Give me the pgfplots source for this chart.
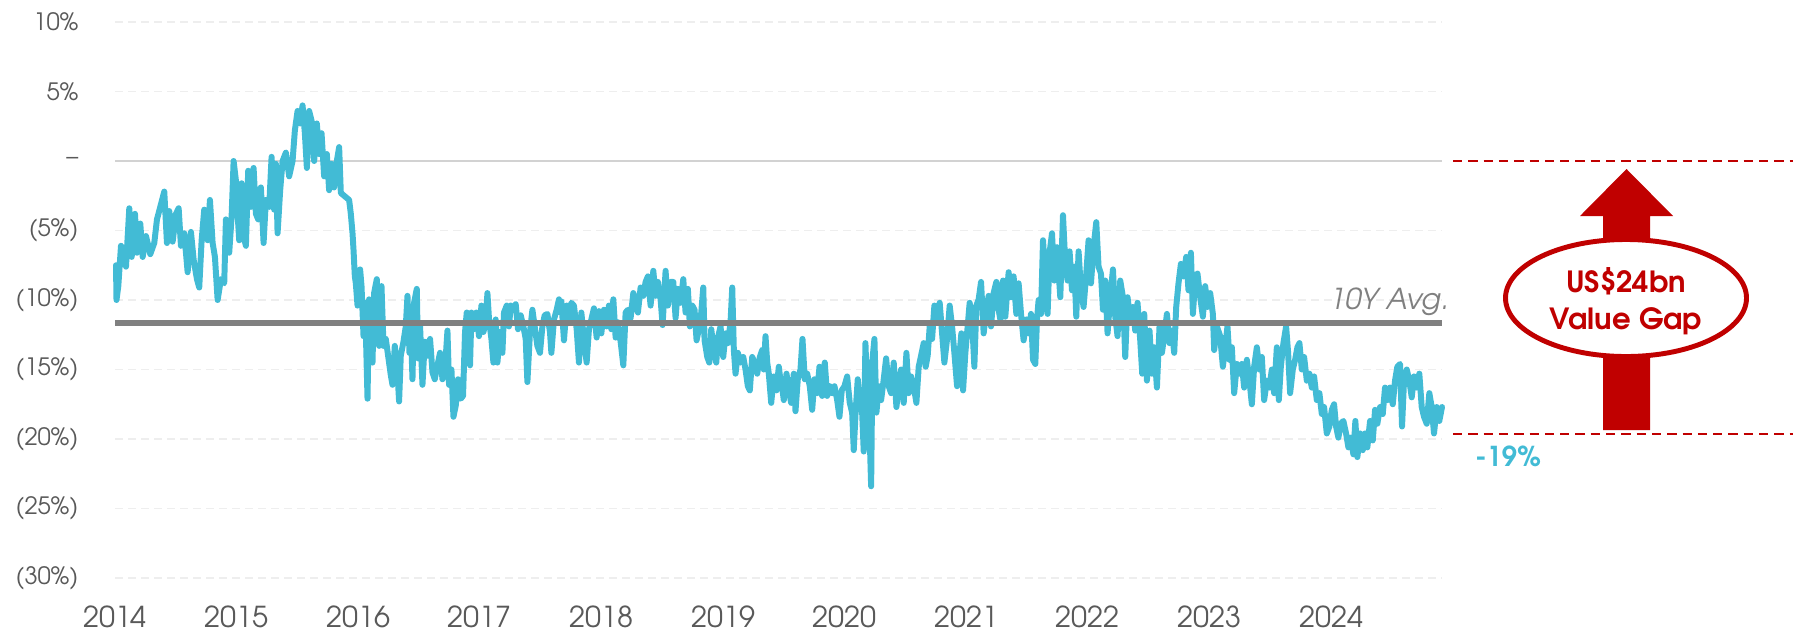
\documentclass[border=0pt]{standalone}
\usepackage{pgfplots}
\pgfplotsset{compat=1.18}
\usepackage{fontspec}
\setmainfont{TeX Gyre Adventor}
\definecolor{tealc}{RGB}{66,187,213}
\definecolor{avgc}{RGB}{128,128,128}
\definecolor{redc}{RGB}{192,0,0}
\definecolor{tickc}{RGB}{89,89,89}
\definecolor{gridc}{RGB}{238,238,238}
\definecolor{zeroc}{RGB}{210,210,210}
\begin{document}
\begin{tikzpicture}
\useasboundingbox (0,0) rectangle (180.1mm,63.1mm);
\begin{axis}[
  at={(11.5mm,5.3mm)}, anchor=south west,
  scale only axis, width=132.7mm, height=55.6mm,
  xmin=114, xmax=1442, ymin=-30, ymax=10,
  axis line style={draw=none},
  major tick length=0pt,
  xtick={114,235.7,357.4,479.1,600.8,722.5,844.2,965.9,1087.6,1209.3,1331},
  xticklabels={2014,2015,2016,2017,2018,2019,2020,2021,2022,2023,2024},
  ytick={-30,-25,-20,-15,-10,-5,0,5,10},
  yticklabels={(30\%),(25\%),(20\%),(15\%),(10\%),(5\%),\textendash,5\%,10\%},
  xticklabel style={font=\fontsize{8.2}{9}\selectfont, text=tickc, inner sep=0pt, anchor=north},
  yticklabel style={font=\fontsize{6.8}{8}\selectfont, text=tickc, inner sep=0pt, anchor=east},
  xticklabel shift=2.7mm,
  yticklabel shift=3.6mm,
  ymajorgrids,
  grid style={color=gridc, line width=0.55pt, dash pattern=on 0.8mm off 0.5mm},
  clip=false,
]
\addplot[zeroc, line width=0.55pt, forget plot] coordinates {(114,0) (1442,0)};
\addplot[tealc, line width=1.7pt, line join=round, line cap=round] coordinates {
(115,-7.5) (115.5,-10) (117.3,-9) (120,-6.1) (122.7,-6.6) (125,-7.6) (128.3,-3.4) (130.7,-6.9) (134,-3.8) (136,-6.6)
(139.3,-4.5) (141.7,-6.9) (145,-5.4) (149.3,-6.7) (153.3,-5.9) (156,-4.2) (159.3,-3.3) (163.3,-2.2) (166,-5.9) (168.3,-3.6)
(171.7,-5.8) (175,-3.8) (177.7,-3.4) (180,-6.1) (183.3,-5.2) (186.7,-8.0) (190,-5.1) (192.7,-7.1) (196,-8.5) (198.3,-9.1)
(200.7,-5.7) (203.3,-3.5) (206.7,-5.7) (209,-2.8) (211.7,-5.9) (214,-6.9) (216.7,-10) (220,-8.5) (223.3,-8.8) (225,-4.2)
(228.3,-6.6) (230.7,-4.0) (232.7,0) (235,-1.4) (236.7,-3.8) (238.3,-5.7) (240.7,-1.6) (242.7,-5.4) (245,-6.1) (247.3,-0.7)
(250,-3.3) (252.7,-0.5) (255,-3.8) (257.3,-4.2) (260,-1.9) (262.7,-5.9) (265,-2.8) (268.3,-3.3) (270.7,0.3) (273.3,-3.5)
(275,-0.2) (276.7,-5.2) (279.3,-2.1) (281.7,0) (285,0.6) (288.3,-1.1) (291.7,0) (294,2.2) (296.7,3.6) (299.3,2.7)
(301.7,4.0) (304,2.0) (306,-0.5) (308.3,3.6) (310.7,2.9) (313.3,0) (316,2.7) (318.3,0.5) (320.7,2.0) (323.3,-1.1)
(326,0.5) (328.3,-2.1) (330.7,-0.2) (333.3,-1.9) (336,0) (338.3,1.0) (340,-2.3)
(348.3,-2.8) (350,-3.8) (351.7,-5.2) (352.7,-6.4) (354,-8.3) (355,-8.8) (356.7,-10.4) (359.3,-7.8) (360.7,-9.0) (362.7,-12.6)
(364.3,-10.2) (366.7,-17.1) (368.3,-9.95) (370,-10.9) (371.7,-14.5) (373.3,-9.5) (376,-8.5) (378.3,-13.3) (380.7,-9.0) (382.7,-13.3)
(385,-12.8) (387.3,-14.0) (390,-15.4) (391.7,-16.1) (394,-13.3) (396.7,-15.2) (398.3,-17.3) (400,-14.0) (402.7,-13.0) (405,-11.9)
(406.7,-9.7) (408.7,-13.8) (410,-11.9) (411.7,-15.7) (413.3,-10.2) (416,-9.2) (417.3,-14.2) (419.3,-11.9) (421.7,-16.1) (424,-13.0)
(426.7,-14.0) (429.3,-12.8) (431.7,-15.2) (434,-15.7) (436.7,-14.7) (439.3,-13.8) (441.7,-15.7) (444,-15.2) (446.7,-12.2) (448.3,-16.1)
(450.7,-15.0) (452.7,-18.4) (455,-17.6) (457.3,-15.7) (460,-17.1) (462.3,-16.9) (464.3,-12.3) (466,-10.9) (467.3,-13.0) (469.3,-14.7)
(470.7,-10.9) (473.3,-12.1) (475.7,-10.9) (478.3,-12.6) (480.7,-10.4) (482.7,-12.3) (485,-11.6) (486.7,-9.5) (488.3,-11.4) (490.7,-12.8)
(492.7,-14.5) (495,-11.4) (496.7,-14.5) (499.3,-12.3) (501.7,-13.8) (503.3,-10.9) (506,-10.4) (508.3,-11.9) (510,-10.4) (512.7,-10.7)
(515,-10.3) (517.3,-12.1) (520,-11.1) (522.7,-11.9) (525,-12.8) (526.7,-15.9) (529.3,-12.3) (531.7,-10.7) (534,-11.9) (536.7,-13.3)
(539.3,-13.8) (541.7,-11.9) (544,-11.1) (546.7,-11.0) (549.3,-12.3) (550.7,-13.8) (553.3,-11.4) (556,-10.7) (558.3,-9.95) (560,-10.9)
(560.7,-10.1) (563.3,-12.9) (566,-10.4) (568.3,-11.6) (570.7,-10.2) (573.3,-10.4) (576,-12.1) (578.3,-14.5) (580.7,-10.9) (583.3,-12.9)
(586,-14.5) (588.3,-12.1) (590.7,-11.4) (593.3,-10.6) (596,-12.7) (598.3,-10.8) (600.7,-12.4) (603.3,-10.7) (606,-11.9) (608.3,-10.4)
(610.7,-12.1) (612.7,-9.95) (615,-12.7) (617.3,-11.6) (620,-13.0) (622.7,-14.7) (625,-10.9) (627.3,-10.7) (630,-11.3) (632.7,-9.5)
(635,-10.2) (637.3,-10.9) (640,-9.1) (642.7,-9.7) (645,-8.7) (647.3,-8.3) (650,-10.4) (652.7,-7.9) (655,-9.7) (657.3,-8.7)
(660,-9.95) (662,-11.8) (665,-7.9) (667.3,-10.4) (670,-8.7) (672.7,-8.7) (675,-11.3) (677.3,-9.2) (680,-10.2) (682.7,-8.5)
(685,-10.9) (687.3,-9.2) (689.3,-11.9) (691.7,-10.4) (694,-10.7) (696,-12.9) (698.3,-12.1) (700.7,-10.9) (702.7,-9.1) (704,-12.9)
(706.7,-14.1) (708.7,-14.5) (710.7,-12.1) (713.3,-13.6) (715.7,-14.5) (717.7,-12.6) (720,-11.9) (722.7,-14.1) (725,-12.4) (727.3,-13.1)
(730,-11.6) (731.7,-9.1) (733.3,-13.6) (735,-15.3) (737.3,-13.8) (740,-14.5) (742.7,-14.1) (745,-15.0) (747.3,-16.2) (749.3,-16.5)
(751.7,-14.1) (754,-14.5) (756.7,-15.3) (759.3,-14.1) (761.7,-13.6) (763.3,-15.0) (765,-12.6) (766.7,-14.5) (768.3,-15.3) (770.7,-17.4)
(773.3,-15.5) (776,-16.5) (778.3,-14.8) (780,-15.8)
(781.5,-16.2) (783.3,-17.2) (786,-15.3) (788.3,-16.5) (790.7,-17.4) (793.3,-15.3) (795,-18.0) (797.3,-15.7) (800,-15.0) (802,-12.8)
(804.3,-15.7) (806.7,-15.3) (809.3,-16.2) (811.7,-17.9) (814,-15.7) (816.7,-16.7) (819,-14.8) (821.7,-16.9) (824.3,-14.5) (826.7,-16.9)
(829.3,-16.2) (831.7,-16.7) (834,-16.2) (836.7,-17.2) (839,-18.4) (841.3,-16.5) (844,-16.2) (846.7,-15.5) (849.3,-17.4) (851.7,-18.1)
(853.3,-20.8) (855.3,-17.9) (857.3,-15.7) (859.3,-17.2) (861.7,-18.1) (863.3,-20.9) (865,-13.1) (866.7,-16.7) (868.7,-18.4) (870.7,-23.4)
(872,-14.3) (874,-12.8) (876,-18.1) (878.3,-16.2) (880.7,-17.2) (883.3,-15.7) (885.7,-14.2) (888.3,-16.2) (890.7,-16.7) (893.3,-14.5)
(896,-17.7) (898.3,-16.2) (900.7,-15.0) (903.3,-17.4) (906,-13.8) (908.3,-16.7) (910.7,-15.5) (913.3,-16.2) (916,-17.4) (918.3,-14.8)
(920.7,-14.0) (923.3,-13.1) (925.3,-14.8) (927.3,-14.0) (929.3,-11.9) (931.7,-12.8) (934,-10.4) (936.7,-11.6) (939.3,-10.2) (941.7,-12.4)
(944,-14.5) (946.7,-12.8) (949.3,-10.4) (951.7,-11.9) (954,-13.8) (956.7,-16.2) (959,-14.0) (961,-12.4) (962.7,-16.5) (965,-13.8)
(967.3,-11.9) (969.3,-10.2) (971.7,-11.4) (974,-14.8) (976,-10.4) (978.3,-9.95) (980.7,-8.7) (983.3,-12.4) (986,-10.7) (988.3,-9.7)
(990.7,-11.9) (993.3,-9.5) (996,-8.7) (998.3,-10.7) (1000,-11.4)
(1001.3,-9.3) (1002.7,-8.6) (1005,-11.2) (1008.3,-8.0) (1010.7,-9.8) (1013.3,-8.3) (1016,-11.0) (1018.3,-8.8) (1020.7,-11.0) (1023.3,-12.9)
(1026,-11.4) (1028.3,-12.4) (1030.7,-11.0) (1032.7,-14.3) (1035,-14.6) (1036.7,-11.4) (1038.3,-10.0) (1040.7,-11.0) (1042.7,-5.7) (1045,-8.3)
(1047.3,-11.0) (1049.3,-6.6) (1051.7,-5.2) (1054,-8.6) (1056.7,-6.2) (1060,-9.8) (1062.7,-3.9) (1065,-7.4) (1067.3,-8.6) (1069.3,-6.5)
(1071.7,-9.3) (1074,-7.6) (1076,-11.2) (1078.3,-6.5) (1080.7,-9.3) (1083.3,-10.5) (1086,-8.1) (1088.3,-5.7) (1090.7,-8.8) (1093.3,-6.2)
(1096,-4.4) (1098.3,-7.6) (1100.7,-8.1) (1102.7,-10.7) (1105,-8.6) (1107.3,-12.4) (1110,-9.8) (1112.7,-7.8) (1115,-11.2) (1117.3,-12.6)
(1120,-8.6) (1122.7,-9.8) (1125,-14.1) (1127.3,-9.8) (1130,-11.4) (1132.7,-10.5) (1135,-12.2) (1137.3,-10.2) (1140,-12.9) (1142,-15.3)
(1144,-11.0) (1146.7,-15.8) (1149.3,-12.2) (1151.7,-15.3) (1154,-13.4) (1156.7,-16.3) (1159.3,-11.9) (1161.7,-13.8) (1164,-12.6) (1166.7,-11.0)
(1169.3,-13.1) (1171.7,-12.2) (1174,-13.8) (1176,-10.5) (1178.3,-8.8) (1180.7,-7.4) (1183.3,-8.3) (1186,-6.9) (1188.3,-9.3) (1190.7,-6.6)
(1192.7,-11.0) (1195,-8.6) (1197.3,-8.1) (1200,-9.8) (1202.7,-11.2) (1205,-9.0) (1207.3,-10.5) (1210,-9.5) (1212.7,-11.0) (1214,-13.6)
(1216.7,-11.9) (1220,-12.6)
(1222.7,-14.8) (1225,-13.4) (1227.3,-11.9) (1229.3,-14.3) (1231.7,-13.4) (1234,-16.7) (1236.7,-14.6) (1239.3,-15.3) (1241.7,-14.6) (1244,-16.3)
(1246.7,-14.3) (1249.3,-15.8) (1251.7,-17.5) (1254,-14.8) (1256.7,-13.4) (1259.3,-15.0) (1261.7,-14.1) (1264,-17.2) (1266.7,-15.8) (1269.3,-16.3)
(1271.7,-15.0) (1274,-16.7) (1276.7,-13.4) (1278.7,-17.2) (1280.7,-14.8) (1283.3,-13.1) (1286,-11.9) (1288,-13.8) (1290,-16.7) (1292.7,-15.0)
(1295,-14.3) (1297.3,-13.4) (1299.3,-13.1) (1301.7,-15.0) (1304,-14.1) (1306.7,-15.8) (1309.3,-15.3) (1311.7,-16.3) (1314,-15.5) (1316.7,-17.2)
(1319.3,-16.7) (1321.7,-18.2) (1324,-17.7) (1326.7,-19.6) (1329.3,-19.1) (1331.7,-17.9) (1334,-17.5) (1336,-19.1) (1338.3,-19.9) (1340.7,-18.9)
(1343.3,-18.7) (1346,-19.6) (1348.3,-20.6) (1350.7,-19.9) (1353.3,-21.1) (1355.3,-18.7) (1357.3,-21.3) (1360,-19.6) (1362.7,-20.8) (1365,-19.6)
(1367.3,-20.6) (1370,-18.7) (1372.7,-20.1) (1375,-17.9) (1377.3,-18.9) (1380,-17.7) (1382.7,-18.2) (1385,-16.3) (1387.3,-17.2) (1390,-16.3)
(1392.7,-17.5) (1395,-15.8) (1397.3,-14.8) (1400,-14.6) (1402,-19.1) (1404,-15.8) (1406.7,-15.0) (1409.3,-15.8) (1411.7,-17.0) (1414,-15.5)
(1416.7,-16.3) (1419.3,-15.3) (1421.7,-17.7) (1424,-18.4) (1426.7,-18.9) (1429.3,-16.7) (1431.7,-17.7) (1434,-19.6) (1436.7,-17.7) (1439.3,-18.7)
(1442,-17.7)
};
\addplot[avgc, line width=1.7pt, forget plot] coordinates {(114,-11.63) (1442,-11.63)};
\end{axis}
% annotations
\node[anchor=base east, inner sep=0pt, text=avgc, font=\itshape\fontsize{8.2}{9}\selectfont] at (145.0mm,32.2mm) {10Y Avg.};
\draw[redc, line width=0.75pt, dash pattern=on 0.93mm off 0.6mm] (145.3mm,47mm) -- (179.3mm,47mm);
\draw[redc, line width=0.75pt, dash pattern=on 0.93mm off 0.6mm] (145.3mm,19.7mm) -- (179.3mm,19.7mm);
\fill[redc] (160.3mm,20.1mm) -- (160.3mm,41.5mm) -- (158mm,41.5mm) -- (162.65mm,46.2mm) -- (167.3mm,41.5mm) -- (165mm,41.5mm) -- (165mm,20.1mm) -- cycle;
\draw[redc, line width=1.4pt, fill=white] (162.6mm,33.3mm) ellipse [x radius=12.05mm, y radius=5.85mm];
\node[anchor=base, inner sep=0pt, text=redc, font=\bfseries\fontsize{8.3}{9}\selectfont] at (162.6mm,33.9mm) {US\$24bn};
\node[anchor=base, inner sep=0pt, text=redc, font=\bfseries\fontsize{8.3}{9}\selectfont] at (162.6mm,30.2mm) {Value Gap};
\node[anchor=base, inner sep=0pt, text=tealc, font=\bfseries\fontsize{7.8}{9}\selectfont] at (150.8mm,16.5mm) {-19\%};
\end{tikzpicture}
\end{document}
